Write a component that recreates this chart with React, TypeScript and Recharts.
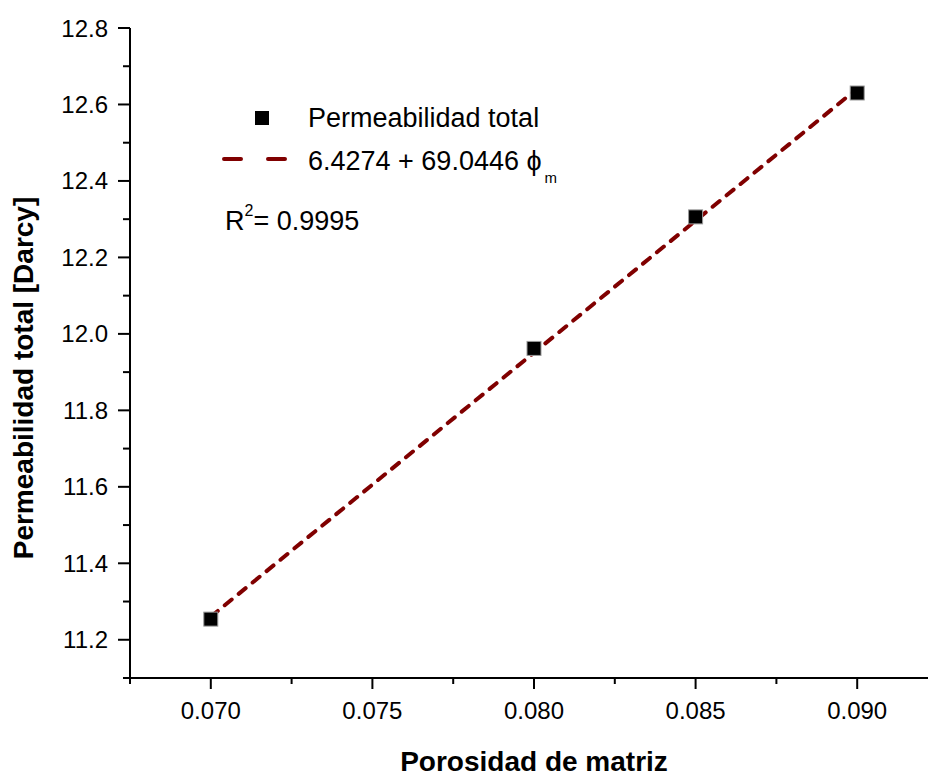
import { ComposedChart, Scatter, Line, XAxis, YAxis, Legend } from 'recharts';

// measured points: matrix porosity vs total permeability
const porosity = [0.07, 0.08, 0.085, 0.09];
const permeability = [11.254, 11.962, 12.306, 12.63];

// linear fit 6.4274 + 69.0446 * phi_m, evaluated at the ends of the range
const fitPorosity = [0.07, 0.09];
const fitPermeability = [11.2605, 12.6414];

const xMajorTicks = [0.07, 0.075, 0.08, 0.085, 0.09];
const xMinorTicks = [0.0675, 0.0725, 0.0775, 0.0825, 0.0875];
const yMajorTicks = [11.2, 11.4, 11.6, 11.8, 12.0, 12.2, 12.4, 12.6, 12.8];
const yMinorTicks = [11.1, 11.3, 11.5, 11.7, 11.9, 12.1, 12.3, 12.5, 12.7];

const seriesName = 'Permeabilidad total';
const fitName = '6.4274 + 69.0446 \u03d5';
const fitSubscript = 'm';
const r2Value = '= 0.9995';

const pointData = porosity.map((x, i) => ({ x, y: permeability[i] }));
const fitData = fitPorosity.map((x, i) => ({ x, y: fitPermeability[i] }));

const FONT = '"Liberation Sans", Arial, sans-serif';
const FIT_COLOR = '#800000';

function XTick({ x, y, payload }: any) {
  const major = xMajorTicks.includes(payload.value);
  return (
    <g>
      <line x1={x} y1={y} x2={x} y2={y + (major ? 11 : 6)} stroke="#000" strokeWidth={2} />
      {major && (
        <text x={x} y={y + 32} textAnchor="middle" dominantBaseline="central" fontSize={24} fontFamily={FONT} fill="#000">
          {payload.value.toFixed(3)}
        </text>
      )}
    </g>
  );
}

function YTick({ x, y, payload }: any) {
  const major = yMajorTicks.includes(payload.value);
  return (
    <g>
      <line x1={x} y1={y} x2={x - (major ? 12 : 7)} y2={y} stroke="#000" strokeWidth={2} />
      {major && (
        <text x={x - 22} y={y} textAnchor="end" dominantBaseline="central" fontSize={24} fontFamily={FONT} fill="#000">
          {payload.value.toFixed(1)}
        </text>
      )}
    </g>
  );
}

function SquareDot({ cx, cy }: any) {
  return <rect x={cx - 7} y={cy - 7} width={14} height={14} fill="#000" stroke="#9a9a9a" strokeWidth={1} />;
}

function FitLegend({ payload }: any) {
  const items = payload ?? [];
  const pts = items.find((p: any) => p.type === 'square');
  const fit = items.find((p: any) => p.type === 'line');
  return (
    <svg width={400} height={160} style={{ overflow: 'visible' }}>
      <g fontFamily={FONT} fontSize={27} fill="#000">
        <rect x={55} y={21} width={14} height={14} fill={pts?.color ?? '#000'} />
        <text x={108} y={37}>{pts?.value ?? seriesName}</text>
        <line
          x1={24}
          y1={69}
          x2={86}
          y2={69}
          stroke={fit?.color ?? FIT_COLOR}
          strokeWidth={4}
          strokeDasharray="17 27"
          strokeLinecap="round"
        />
        <text x={108} y={80}>
          {fit?.value ?? fitName}
          <tspan fontSize={15} dx={3} dy={13}>{fitSubscript}</tspan>
        </text>
        <text x={25} y={140}>
          R
          <tspan fontSize={16} dy={-14}>2</tspan>
          <tspan dy={14}>{r2Value}</tspan>
        </text>
      </g>
    </svg>
  );
}

export default function App() {
  return (
    <div style={{ position: 'absolute', left: 0, top: 0, width: 928, height: 776, overflow: 'hidden', background: '#fff' }}>
      <ComposedChart width={940} height={776} margin={{ top: 28, right: 2, bottom: 38, left: 70 }}>
        <XAxis
          dataKey="x"
          type="number"
          domain={[0.0675, 0.0925]}
          ticks={[...xMinorTicks, ...xMajorTicks].sort((a, b) => a - b)}
          interval={0}
          height={60}
          tickSize={0}
          tickMargin={0}
          tickLine={false}
          axisLine={{ stroke: '#000', strokeWidth: 2 }}
          tick={<XTick />}
        />
        <YAxis
          type="number"
          domain={[11.1, 12.8]}
          ticks={[...yMinorTicks, ...yMajorTicks].sort((a, b) => a - b)}
          interval={0}
          width={60}
          tickSize={0}
          tickMargin={0}
          tickLine={false}
          axisLine={{ stroke: '#000', strokeWidth: 2 }}
          tick={<YTick />}
        />
        <Legend
          verticalAlign="middle"
          layout="horizontal"
          wrapperStyle={{ left: 200, top: 90, width: 400, height: 160 }}
          content={<FitLegend />}
        />
        <Scatter
          name={seriesName}
          data={pointData}
          dataKey="y"
          fill="#000"
          legendType="square"
          shape={<SquareDot />}
          isAnimationActive={false}
        />
        <Line
          name={fitName}
          data={fitData}
          dataKey="y"
          type="linear"
          stroke={FIT_COLOR}
          strokeWidth={4}
          strokeDasharray="9 9"
          strokeLinecap="round"
          dot={false}
          legendType="line"
          isAnimationActive={false}
        />
        <text x={534} y={771} textAnchor="middle" fontSize={28} fontWeight="bold" fontFamily={FONT} fill="#000">
          Porosidad de matriz
        </text>
        <text
          x={33}
          y={378}
          transform="rotate(-90 33 378)"
          textAnchor="middle"
          fontSize={28}
          fontWeight="bold"
          fontFamily={FONT}
          fill="#000"
        >
          Permeabilidad total [Darcy]
        </text>
      </ComposedChart>
    </div>
  );
}
